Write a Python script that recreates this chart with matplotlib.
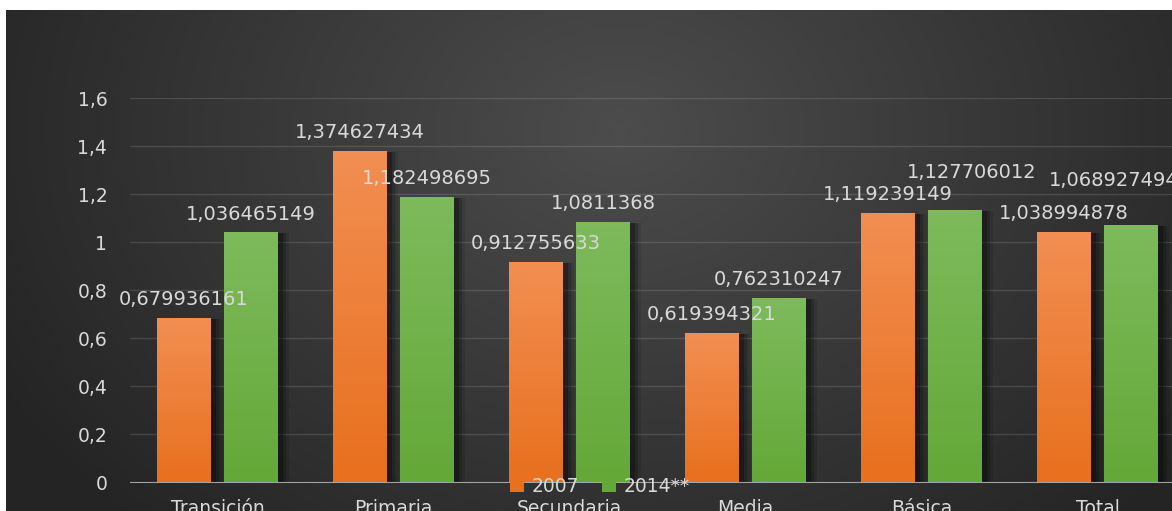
import numpy as np
import matplotlib
matplotlib.use('Agg')
import matplotlib.pyplot as plt
from matplotlib.patches import Patch, Rectangle

# Data
categories = ['Transición', 'Primaria', 'Secundaria', 'Media', 'Básica', 'Total']
values_2007 = [0.679936161, 1.374627434, 0.912755633, 0.619394321, 1.119239149, 1.038994878]
values_2014 = [1.036465149, 1.182498695, 1.0811368, 0.762310247, 1.127706012, 1.068927494]
series_names = ['2007', '2014**']
yticks = [0, 0.2, 0.4, 0.6, 0.8, 1.0, 1.2, 1.4, 1.6]
ytick_labels = ['0', '0,2', '0,4', '0,6', '0,8', '1', '1,2', '1,4', '1,6']

W, H = 1172, 511
text_col = '#d9d9d9'
plt.rcParams['font.family'] = ['DejaVu Sans']

# label nudges (in pixels) for the crowded labels, keyed by (series, category index)
label_nudge = {(1, 4): (17, 20), (1, 5): (-17, 26)}

fig = plt.figure(figsize=(W / 100, H / 100), dpi=100, facecolor='white')

# Dark radial background (white strip on top and left)
x0, y0 = 6 / W, 10 / H
bg = fig.add_axes([x0, 0, 1 - x0, 1 - y0])
gx, gy = np.meshgrid(np.linspace(6, W, 400), np.linspace(10, H, 200))
r = np.sqrt((gx - 620) ** 2 + ((gy - 130) * 1.3) ** 2) / 700
r = np.clip(r, 0, 1)
inner, outer = np.array([0.30, 0.30, 0.30]), np.array([0.145, 0.145, 0.145])
img = inner[None, None, :] * (1 - r[..., None]) + outer[None, None, :] * r[..., None]
bg.imshow(img, extent=[0, 1, 0, 1], aspect='auto', origin='upper')
bg.axis('off')

# Plot area
ax = fig.add_axes([129.5 / W, 28.5 / H, 1056 / W, 384.5 / H])
ax.set_facecolor('none')
x = np.arange(len(categories))
bw = 54 / 176
off = 33.5 / 176

orange_top, orange_bot = np.array([242, 142, 82]) / 255, np.array([232, 112, 30]) / 255
green_top, green_bot = np.array([126, 186, 92]) / 255, np.array([100, 168, 56]) / 255

bars_a = ax.bar(x - off, values_2007, bw, color=orange_bot, zorder=3)
bars_b = ax.bar(x + off, values_2014, bw, color=green_bot, zorder=3)

px = 1 / 176
for si, (bars, top, bot) in enumerate([(bars_a, orange_top, orange_bot), (bars_b, green_top, green_bot)]):
    for ci, b in enumerate(bars):
        bx, bwid, bh = b.get_x(), b.get_width(), b.get_height()
        # soft shadow to the right
        for k, a in [(9, 0.10), (6, 0.18), (3, 0.25)]:
            ax.add_patch(Rectangle((bx + 2 * px, 0), bwid + k * px, bh,
                                   facecolor='black', alpha=a, lw=0, zorder=2))
        t = np.linspace(0, 1, 64)[:, None, None]
        grad = top[None, None, :] * (1 - t) + bot[None, None, :] * t
        ax.imshow(grad, extent=[bx, bx + bwid, 0, bh], aspect='auto', origin='upper', zorder=4)
        dx, dy = label_nudge.get((si, ci), (0, 0))
        lbl = str(bh).replace('.', ',')
        ax.annotate(lbl, xy=(bx + bwid / 2, bh), xytext=(dx * 0.72, 10 + dy * 0.72),
                    textcoords='offset points', ha='center', va='baseline',
                    color=text_col, fontsize=14, zorder=6, annotation_clip=False)

ax.set_xlim(-0.5, len(categories) - 0.5)
ax.set_ylim(0, 1.6)
ax.set_aspect('auto')
ax.set_yticks(yticks)
ax.set_yticklabels(ytick_labels)
ax.set_xticks(x)
ax.set_xticklabels(categories)
ax.tick_params(axis='y', length=0, pad=16, labelsize=13.5, labelcolor=text_col)
ax.tick_params(axis='x', length=0, pad=12, labelsize=13.5, labelcolor=text_col)
ax.grid(axis='y', color='white', alpha=0.13, lw=1, zorder=1)
for s in ax.spines.values():
    s.set_visible(False)
ax.axhline(0, color='#a6a6a6', lw=1.5, zorder=5)

handles = [Patch(facecolor=orange_bot, lw=0), Patch(facecolor=green_bot, lw=0)]
leg = fig.legend(handles, series_names, loc='center', bbox_to_anchor=(600 / W, 1 - 486 / H),
                 ncol=2, frameon=False, fontsize=13.5, labelcolor=text_col,
                 handlelength=0.75, handleheight=0.75, handletextpad=0.4, columnspacing=1.2,
                 borderpad=0)
leg.set_zorder(10)

fig.savefig('out.png', dpi=100, facecolor='white')
